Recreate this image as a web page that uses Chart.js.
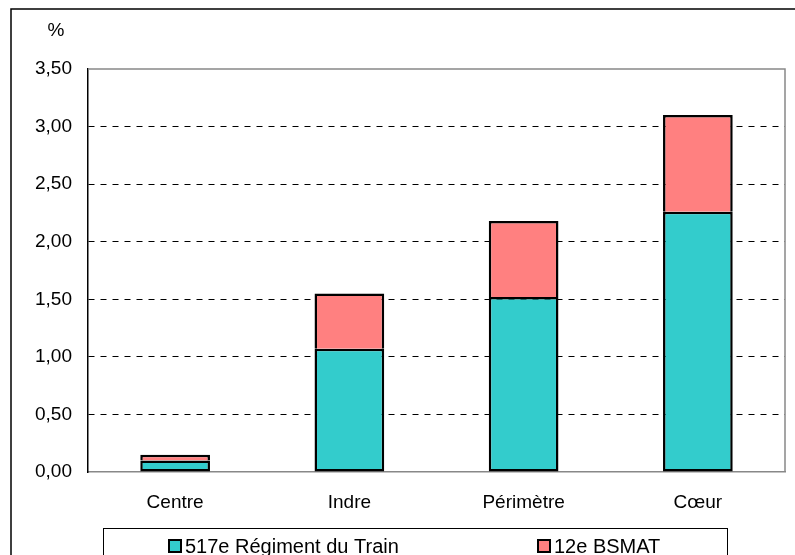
<!DOCTYPE html>
<html>
<head>
<meta charset="utf-8">
<script src="https://cdn.jsdelivr.net/npm/chart.js@4/dist/chart.umd.min.js"></script>
<style>
  body { margin: 0; background: #fff; }
  canvas { display: block; }
</style>
</head>
<body>
<canvas id="chart" width="795" height="555"></canvas>
<script>
const categories = ['Centre', 'Indre', 'Périmètre', 'Cœur']
const train517 = [0.10, 1.07, 1.52, 2.26]
const bsmat12 = [0.05, 0.48, 0.66, 0.84]
const seriesNames = ['517e Régiment du Train', '12e BSMAT']
const seriesColors = ['#33CCCC', '#FF8080']

const FONT = 'Liberation Sans, Arial, sans-serif'

// frame, plot border, unit label and the boxed legend
const decor = {
    id: 'decor',
    afterDraw: (chart) => {
        const ctx = chart.ctx
        const a = chart.chartArea
        ctx.save()
        // outer frame (only left and top visible)
        ctx.strokeStyle = '#000'
        ctx.lineWidth = 1.5
        ctx.beginPath()
        ctx.moveTo(11, 555)
        ctx.lineTo(11, 9)
        ctx.lineTo(795, 9)
        ctx.stroke()
        // top + right border of plot
        ctx.strokeStyle = '#888'
        ctx.lineWidth = 1.5
        ctx.beginPath()
        ctx.moveTo(a.left, a.top)
        ctx.lineTo(a.right, a.top)
        ctx.lineTo(a.right, a.bottom)
        ctx.stroke()
        // unit
        ctx.fillStyle = '#000'
        ctx.font = '19px ' + FONT
        ctx.textAlign = 'center'
        ctx.textBaseline = 'middle'
        ctx.fillText('%', 56, 31)
        // legend box
        ctx.strokeStyle = '#000'
        ctx.lineWidth = 1
        ctx.strokeRect(103.5, 528.5, 624, 40)
        ctx.font = '20px ' + FONT
        const xs = [169, 538]
        chart.data.datasets.forEach((ds, i) => {
            const x = xs[i]
            ctx.fillStyle = ds.backgroundColor
            ctx.fillRect(x, 540, 12, 12)
            ctx.strokeStyle = '#000'
            ctx.lineWidth = 2
            ctx.strokeRect(x, 540, 12, 12)
            ctx.fillStyle = '#000'
            ctx.textAlign = 'left'
            ctx.textBaseline = 'middle'
            ctx.fillText(ds.label, x + 16, 547)
        })
        ctx.restore()
    }
}

const ctx = document.getElementById('chart').getContext('2d')
const myChart = new Chart(ctx, {
    type: 'bar',
    data: {
        labels: categories,
        datasets: [{
            label: seriesNames[0],
            data: train517,
            backgroundColor: seriesColors[0],
            borderColor: '#000',
            borderWidth: 2.5,
            borderSkipped: false,
            barPercentage: 0.4,
            categoryPercentage: 1.0
        }, {
            label: seriesNames[1],
            data: bsmat12,
            backgroundColor: seriesColors[1],
            borderColor: '#000',
            borderWidth: 2.5,
            borderSkipped: 'bottom',
            barPercentage: 0.4,
            categoryPercentage: 1.0
        }]
    },
    options: {
        responsive: false,
        animation: false,
        layout: { padding: { left: 0, right: 10, top: 69, bottom: 0 } },
        plugins: {
            legend: { display: false },
            tooltip: { enabled: false }
        },
        scales: {
            x: {
                stacked: true,
                afterFit: (scale) => { scale.height = 83 },
                grid: { display: false, drawTicks: false },
                border: { color: '#888', width: 1.5 },
                ticks: { color: '#000', padding: 19, font: { family: FONT, size: 19 } }
            },
            y: {
                stacked: true,
                min: 0,
                max: 3.5,
                afterFit: (scale) => { scale.width = 88 },
                border: { color: '#000', width: 1.5, dash: [6, 6] },
                grid: {
                    drawTicks: false,
                    color: (c) => (c.tick && c.tick.value > 0 && c.tick.value < 3.5) ? '#000' : 'rgba(0,0,0,0)',
                    lineWidth: 1
                },
                ticks: {
                    stepSize: 0.5,
                    color: '#000',
                    padding: 16,
                    font: { family: FONT, size: 19 },
                    callback: (v) => v.toFixed(2).replace('.', ',')
                }
            }
        }
    },
    plugins: [decor]
})
</script>
</body>
</html>
